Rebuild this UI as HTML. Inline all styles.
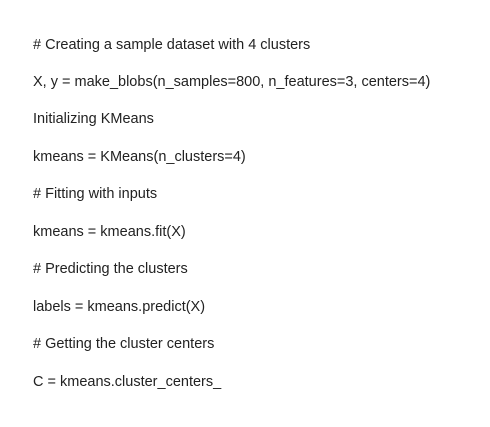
<!DOCTYPE html>
<html><head><meta charset="utf-8"><style>
html,body{margin:0;padding:0;background:#fff;width:490px;height:427px;overflow:hidden}
div.l{position:absolute;left:33px;font-family:"Liberation Sans",sans-serif;font-size:14.5px;color:#222;white-space:nowrap;line-height:17px}
</style></head><body>
<div class="l" style="top:37px"># Creating a sample dataset with 4 clusters</div>
<div class="l" style="top:74px">X, y = make_blobs(n_samples=800, n_features=3, centers=4)</div>
<div class="l" style="top:111px">Initializing KMeans</div>
<div class="l" style="top:149px">kmeans = KMeans(n_clusters=4)</div>
<div class="l" style="top:186px"># Fitting with inputs</div>
<div class="l" style="top:224px">kmeans = kmeans.fit(X)</div>
<div class="l" style="top:261px"># Predicting the clusters</div>
<div class="l" style="top:299px">labels = kmeans.predict(X)</div>
<div class="l" style="top:336px"># Getting the cluster centers</div>
<div class="l" style="top:374px">C = kmeans.cluster_centers_</div>
</body></html>
